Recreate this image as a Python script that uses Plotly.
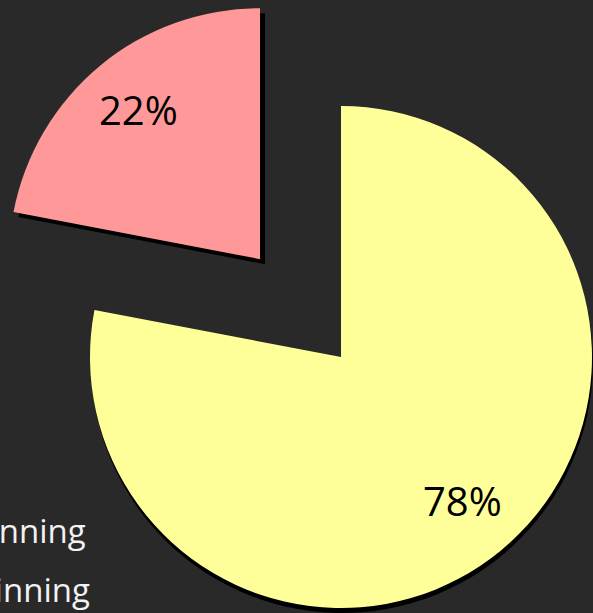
import math
import plotly.graph_objects as go

# ---- data -------------------------------------------------------------
labels = ["Winning", "Not winning"]
values = [22, 78]
slice_colors = ["#ff9999", "#ffff99"]

# ---- page / styling ---------------------------------------------------
W, H = 593, 613
BG = "#292929"
RADIUS = 251          # wedge radius in px
BASE_CX, BASE_CY = 341, 357   # centre of the un-pulled wedge
PULL_PX = 127         # how far the exploded wedge is pulled out
SHADOW = (5, 5)       # drop-shadow offset
LABEL_R = 0.76        # label distance along each bisector, as a fraction of the radius
CLEAR = "rgba(0,0,0,0)"
FONT = "Open Sans"


def domain(cx, cy, r):
    x0 = max(0.0, (cx - r) / W)
    x1 = min(1.0, (cx + r) / W)
    y0 = max(0.0, 1 - (cy + r) / H)
    y1 = min(1.0, 1 - (cy - r) / H)
    return dict(x=[x0, x1], y=[y0, y1])


# Slices run counterclockwise from 12 o'clock: first slice sits in the upper-left.
total = sum(values)
ROTATION = -360.0 * values[0] / total       # clockwise layout, rotated back by slice 0
starts = [sum(values[:i]) / total * 2 * math.pi for i in range(len(values))]
mids = [s + 0.5 * v / total * 2 * math.pi for s, v in zip(starts, values)]   # ccw from top
centres = [
    (BASE_CX - PULL_PX * math.sin(mids[0]), BASE_CY - PULL_PX * math.cos(mids[0])),
    (BASE_CX, BASE_CY),
]


def wedge(idx, colour_for_visible, dx=0.0, dy=0.0):
    cx, cy = centres[idx]
    cols = [CLEAR] * len(values)
    cols[idx] = colour_for_visible
    # keep the shadow inside the page on the right/bottom edges
    dx = min(dx, W - (cx + RADIUS))
    dy = min(dy, H - (cy + RADIUS))
    return go.Pie(
        labels=labels,
        values=values,
        sort=False,
        direction="clockwise",
        rotation=ROTATION,
        domain=domain(cx + dx, cy + dy, RADIUS),
        marker=dict(colors=cols, line=dict(width=0)),
        textinfo="none",
        hoverinfo="skip",
        showlegend=False,
    )


fig = go.Figure()
# shadows first, then the coloured wedges on top
for i in range(len(values)):
    fig.add_trace(wedge(i, "#000000", SHADOW[0], SHADOW[1]))
for i in range(len(values)):
    fig.add_trace(wedge(i, slice_colors[i]))

# percentage labels on each wedge's bisector
for i, v in enumerate(values):
    cx, cy = centres[i]
    lx = cx - LABEL_R * RADIUS * math.sin(mids[i])
    ly = cy - LABEL_R * RADIUS * math.cos(mids[i])
    fig.add_annotation(
        x=lx / W, y=1 - ly / H, xref="paper", yref="paper",
        xanchor="center", yanchor="middle", yshift=3,
        text=f"{round(100 * v / total)}%", showarrow=False,
        font=dict(size=40, color="#000000", family=FONT),
    )

# legend text (its swatches sit off the left edge of the page)
legend_right = [88, 92]
legend_mid_y = [530, 589]
for lab, xr, ym in zip(labels, legend_right, legend_mid_y):
    fig.add_annotation(
        x=xr / W, y=1 - ym / H, xref="paper", yref="paper",
        xanchor="right", yanchor="middle",
        text=lab, showarrow=False,
        font=dict(size=33, color="#f2f2f2", family=FONT),
    )

fig.update_layout(
    width=W, height=H,
    margin=dict(l=0, r=0, t=0, b=0),
    paper_bgcolor=BG, plot_bgcolor=BG,
    showlegend=False,
)

fig.write_html("out.html")
